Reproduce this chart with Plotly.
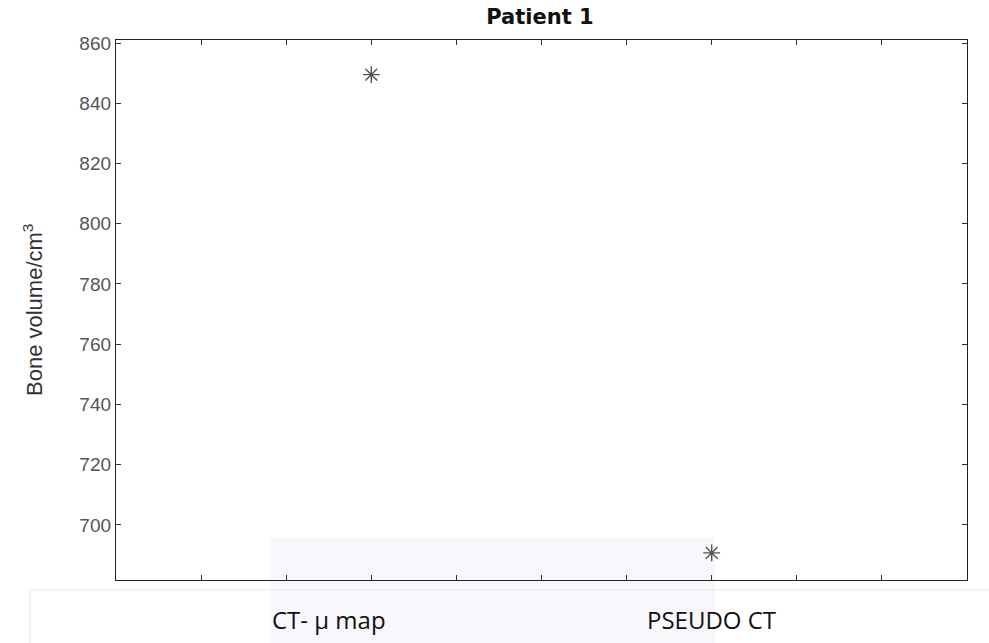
import plotly.graph_objects as go

# Data
categories = ["CT- µ map", "PSEUDO CT"]
x_positions = [3, 7]
bone_volume = [849.5, 690.7]
y_ticks = [700, 720, 740, 760, 780, 800, 820, 840, 860]
x_minor_ticks = [1, 2, 3, 4, 5, 6, 7, 8, 9]
label_x = [2.5, 7.0]

fig = go.Figure()
fig.add_trace(go.Scatter(
    x=x_positions, y=bone_volume, mode="markers",
    marker=dict(symbol="asterisk-open", size=14, color="#555555",
                line=dict(width=1.4, color="#555555")),
    showlegend=False, hoverinfo="skip"))

axis_common = dict(showline=True, linecolor="#222222", linewidth=1.3, mirror="ticks",
                   ticks="inside", ticklen=5, tickwidth=1, tickcolor="#333333",
                   showgrid=False, zeroline=False)

fig.update_xaxes(range=[0, 10], tickvals=x_minor_ticks, showticklabels=False, **axis_common)
fig.update_yaxes(range=[681.7, 861], tickvals=y_ticks,
                 tickfont=dict(family="Liberation Sans, Arial", size=19, color="#555555"),
                 **axis_common)

# category labels under the axis
for cx, txt in zip(label_x, categories):
    fig.add_annotation(x=cx, xref="x", y=(580 - 620) / 540, yref="paper", yanchor="middle",
                       text=txt, showarrow=False,
                       font=dict(family="Open Sans", size=24, color="#111111"))

fig.update_layout(
    width=989, height=643,
    margin=dict(l=116, r=22, t=40, b=63),
    paper_bgcolor="white", plot_bgcolor="white",
    title=dict(text="<b>Patient 1</b>", x=(540 / 989), xanchor="center",
               y=1 - 17 / 643, yanchor="middle",
               font=dict(family="DejaVu Sans", size=21, color="#111111")),
)

# y axis label as annotation for exact placement
fig.add_annotation(text="Bone volume/cm<sup>3</sup>", textangle=-90,
                   xref="paper", x=-(116 - 33) / (989 - 116 - 22), xanchor="center",
                   yref="paper", y=(580 - 310) / 540, yanchor="middle",
                   showarrow=False,
                   font=dict(family="Liberation Sans, Arial", size=22, color="#333333"))

# pasted-text box outline and faint watermark
fig.add_shape(type="rect", xref="paper", yref="paper",
              x0=-(116 - 270) / 851, x1=(715 - 116) / 851,
              y0=(580 - 643) / 540, y1=(580 - 537) / 540,
              fillcolor="rgba(230,230,245,0.3)", line=dict(width=0), layer="below")
fig.add_shape(type="line", xref="paper", yref="paper",
              x0=-(116 - 30) / 851, x1=(989 - 116) / 851,
              y0=(580 - 590) / 540, y1=(580 - 590) / 540,
              line=dict(color="#e8e8e8", width=1))
fig.add_shape(type="line", xref="paper", yref="paper",
              x0=-(116 - 30) / 851, x1=-(116 - 30) / 851,
              y0=(580 - 590) / 540, y1=(580 - 643) / 540,
              line=dict(color="#e8e8e8", width=1))

fig.write_html("out.html")
